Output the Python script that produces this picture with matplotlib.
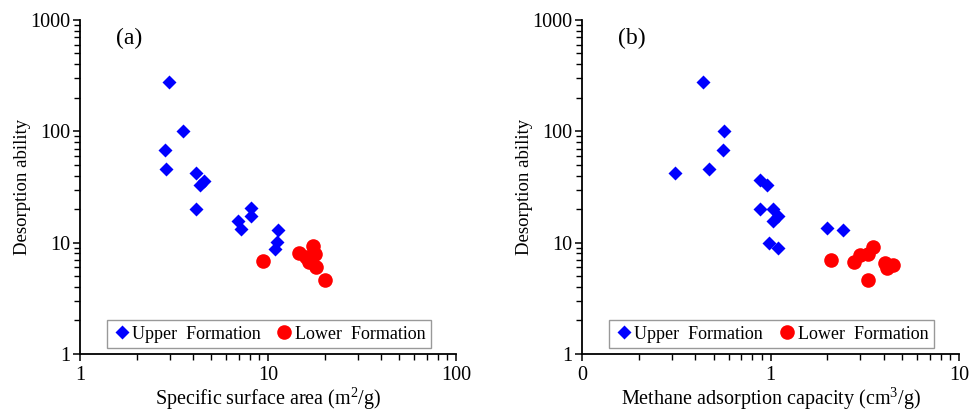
import numpy as np
import matplotlib
matplotlib.use("Agg")
import matplotlib.pyplot as plt
from matplotlib.ticker import FixedLocator, FixedFormatter, LogLocator, NullFormatter

plt.rcParams['font.family'] = ['Liberation Serif', 'DejaVu Serif']
plt.rcParams['mathtext.fontset'] = 'custom'
plt.rcParams['mathtext.rm'] = 'Liberation Serif'

# (a) specific surface area vs desorption ability
ssa_upper = [2.96, 3.52, 2.82, 2.85, 4.16, 4.55, 4.33, 4.12, 6.93, 7.19, 8.07, 8.07, 11.3, 11.1, 10.9]
des_upper_a = [276, 101, 67.9, 45.8, 42.4, 35.9, 32.9, 19.9, 15.7, 13.4, 20.3, 17.3, 12.9, 10.1, 8.85]
ssa_lower = [9.35, 14.6, 17.4, 17.8, 16.6, 18.1, 20.1, 16.0, 17.0]
des_lower_a = [6.8, 8.08, 9.28, 7.86, 6.7, 6.1, 4.65, 7.4, 7.0]

# (b) methane adsorption capacity vs desorption ability
mac_upper = [0.44, 0.569, 0.560, 0.470, 0.310, 0.883, 0.955, 0.883, 1.035, 1.10, 1.027, 0.982, 1.10, 1.99, 2.43]
des_upper_b = [276, 101, 67.9, 45.8, 42.1, 36.2, 32.9, 19.9, 19.9, 17.3, 15.6, 10.0, 8.96, 13.6, 12.9]
mac_lower = [2.10, 2.77, 2.99, 3.30, 3.49, 4.05, 4.13, 4.45, 3.30]
des_lower_b = [6.95, 6.7, 7.7, 7.98, 9.15, 6.5, 5.97, 6.26, 4.59]

fig = plt.figure(figsize=(9.69, 4.12), dpi=100)
ax1 = fig.add_axes([0.0826, 0.1408, 0.388, 0.8107])
ax2 = fig.add_axes([0.6006, 0.1408, 0.3891, 0.8107])

panels = [
    (ax1, ssa_upper, des_upper_a, ssa_lower, des_lower_a, (1, 100), [1, 10, 100], ['1', '10', '100'],
     'Specific surface area (m$^{2}$/g)', '(a)'),
    (ax2, mac_upper, des_upper_b, mac_lower, des_lower_b, (0.1, 10), [0.1, 1, 10], ['0', '1', '10'],
     'Methane adsorption capacity (cm$^{3}$/g)', '(b)'),
]

for ax, xu, yu, xl, yl, xlim, xt, xtl, xlab, tag in panels:
    ax.plot(xu, yu, 'D', color='#0000FF', ms=7.3, mec='none', label='Upper  Formation')
    ax.plot(xl, yl, 'o', color='#FF0000', ms=10.5, mec='none', label='Lower  Formation')
    ax.set_xscale('log')
    ax.set_yscale('log')
    ax.set_xlim(*xlim)
    ax.set_ylim(1, 1000)
    ax.xaxis.set_major_locator(FixedLocator(xt))
    ax.xaxis.set_major_formatter(FixedFormatter(xtl))
    ax.xaxis.set_minor_locator(LogLocator(base=10, subs=np.arange(2, 10)))
    ax.xaxis.set_minor_formatter(NullFormatter())
    ax.yaxis.set_major_locator(FixedLocator([1, 10, 100, 1000]))
    ax.yaxis.set_major_formatter(FixedFormatter(['1', '10', '100', '1000']))
    ax.yaxis.set_minor_locator(LogLocator(base=10, subs=np.arange(2, 10)))
    ax.yaxis.set_minor_formatter(NullFormatter())
    for s in ['top', 'right']:
        ax.spines[s].set_visible(False)
    for s in ['left', 'bottom']:
        ax.spines[s].set_linewidth(1.3)
    ax.tick_params(which='major', direction='out', length=5, width=1.1, labelsize=14.5)
    ax.tick_params(axis='x', which='major', pad=4)
    ax.tick_params(axis='y', which='major', pad=2)
    ax.tick_params(which='minor', direction='out', length=4, width=1.0)
    ax.set_xlabel(xlab, fontsize=14.5, va='center')
    ax.xaxis.set_label_coords(0.5, -0.133)
    ax.set_ylabel('Desorption ability', fontsize=13.5, va='center')
    ax.yaxis.set_label_coords(-0.152, 0.5)
    ax.text(0.095, 0.975, tag, transform=ax.transAxes, fontsize=17, va='top', ha='left')
    leg = ax.legend(loc='lower left', bbox_to_anchor=(0.072, 0.018, 0.861, 0.096), mode='expand',
                    ncol=2, fontsize=13, frameon=True, fancybox=False, handletextpad=0.1,
                    columnspacing=0.6, borderpad=0.3, handlelength=1.0, borderaxespad=0)
    leg.get_frame().set_edgecolor('#808080')
    leg.get_frame().set_linewidth(1.0)

fig.savefig('out.png', dpi=100)
